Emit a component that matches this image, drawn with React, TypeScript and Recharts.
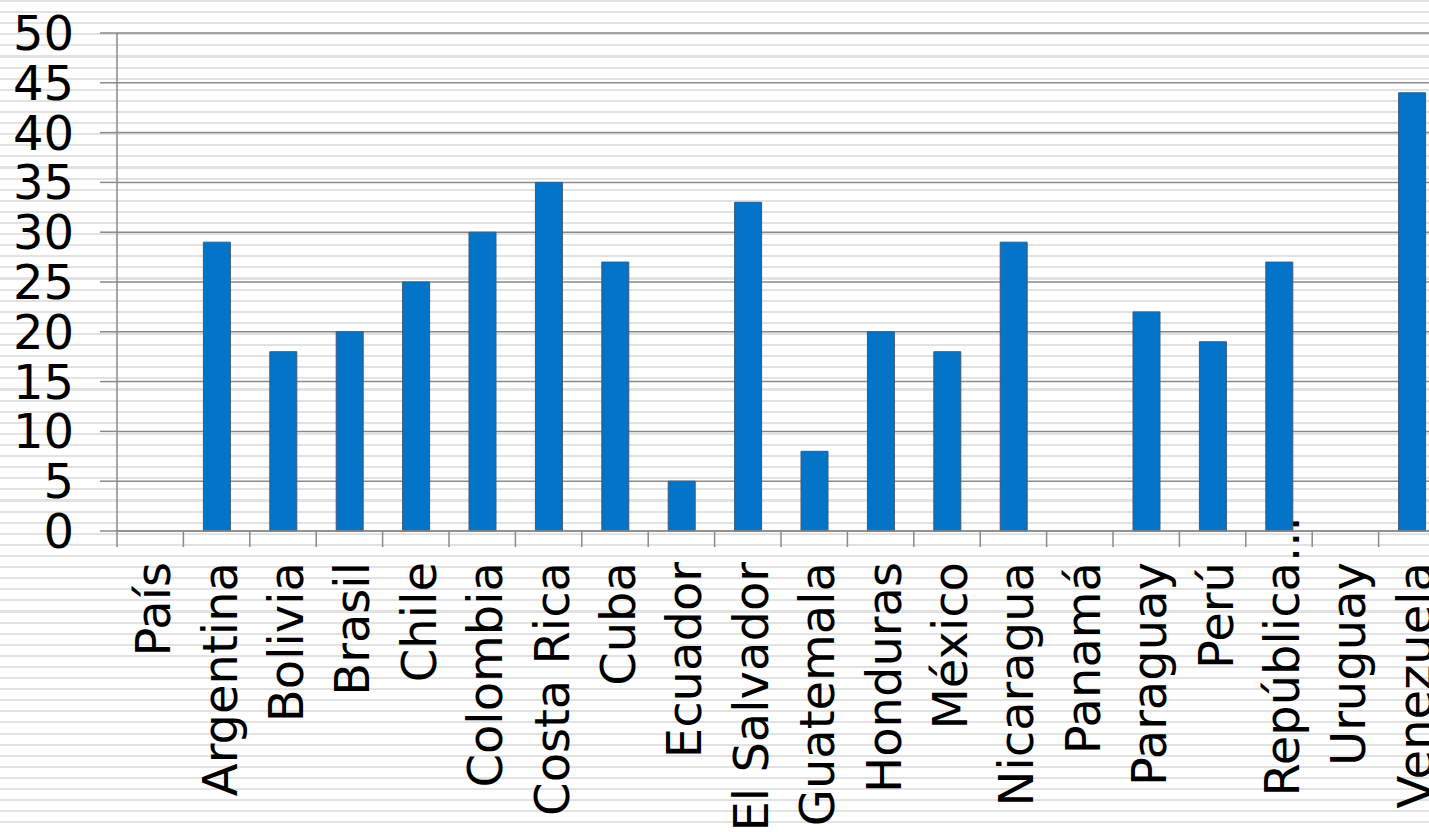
import React from 'react';
import { BarChart, Bar, XAxis, YAxis, CartesianGrid } from 'recharts';

const categories = ['País', 'Argentina', 'Bolivia', 'Brasil', 'Chile', 'Colombia', 'Costa Rica', 'Cuba', 'Ecuador', 'El Salvador', 'Guatemala', 'Honduras', 'México', 'Nicaragua', 'Panamá', 'Paraguay', 'Perú', 'República...', 'Uruguay', 'Venezuela'];
const values: (number | null)[] = [null, 29, 18, 20, 25, 30, 35, 27, 5, 33, 8, 20, 18, 29, null, 22, 19, 27, null, 44];
const yTicks = [0, 5, 10, 15, 20, 25, 30, 35, 40, 45, 50];

const data = categories.map((c, i) => ({ name: c, value: values[i] }));

const FONT = '"DejaVu Sans", Verdana, sans-serif';
const AXIS = '#8a8a8a';

const XTick = (props: any) => {
  const { x, y, payload } = props;
  const off = payload && typeof payload.offset === 'number' && payload.offset > 0 ? payload.offset : 33.2;
  const label: string = String(payload.value);
  const hasDots = label.endsWith('...');
  const main = hasDots ? label.slice(0, -3) : label;
  const tx = x + 20;
  const ty = y + 31;
  return (
    <g>
      <line x1={x - off} x2={x - off} y1={y} y2={y + 16} stroke={AXIS} strokeWidth={1.5} />
      <text transform={`translate(${tx},${ty}) rotate(-90)`} x={0} y={0} textAnchor="end" fontSize={48} fontFamily={FONT} fill="#000">
        {main}
      </text>
      {hasDots && (
        <text transform={`translate(${tx},${ty}) rotate(-90)`} x={0} y={0} textAnchor="start" fontSize={48} fontFamily={FONT} fill="#000">
          ...
        </text>
      )}
    </g>
  );
};

export default function App() {
  return (
    <div
      style={{
        position: 'fixed',
        left: 0,
        top: 0,
        width: 1429,
        height: 832,
        overflow: 'hidden',
        background: 'repeating-linear-gradient(to bottom, #e2e2e2 0px, #e2e2e2 2px, #ffffff 2px, #ffffff 11.1px)',
      }}
    >
      <BarChart width={1445} height={832} data={data} margin={{ top: 33, right: 0, bottom: 0, left: 0 }} barSize={27}>
        <CartesianGrid horizontal={true} vertical={false} stroke={AXIS} strokeWidth={1.5} />
        <YAxis
          type="number"
          domain={[0, 50]}
          ticks={yTicks}
          interval={0}
          width={117}
          tickSize={17}
          tickMargin={26}
          axisLine={{ stroke: AXIS, strokeWidth: 1.5 }}
          tickLine={{ stroke: AXIS, strokeWidth: 1.5 }}
          tick={{ fontSize: 48, fontFamily: FONT, fill: '#000' }}
        />
        <XAxis
          dataKey="name"
          type="category"
          interval={0}
          height={301}
          tickSize={0}
          tickMargin={0}
          tickLine={false}
          axisLine={{ stroke: AXIS, strokeWidth: 1.5 }}
          tick={<XTick />}
        />
        <Bar dataKey="value" fill="#0474c8" stroke="#3d5a78" strokeWidth={1} isAnimationActive={false} />
      </BarChart>
    </div>
  );
}
